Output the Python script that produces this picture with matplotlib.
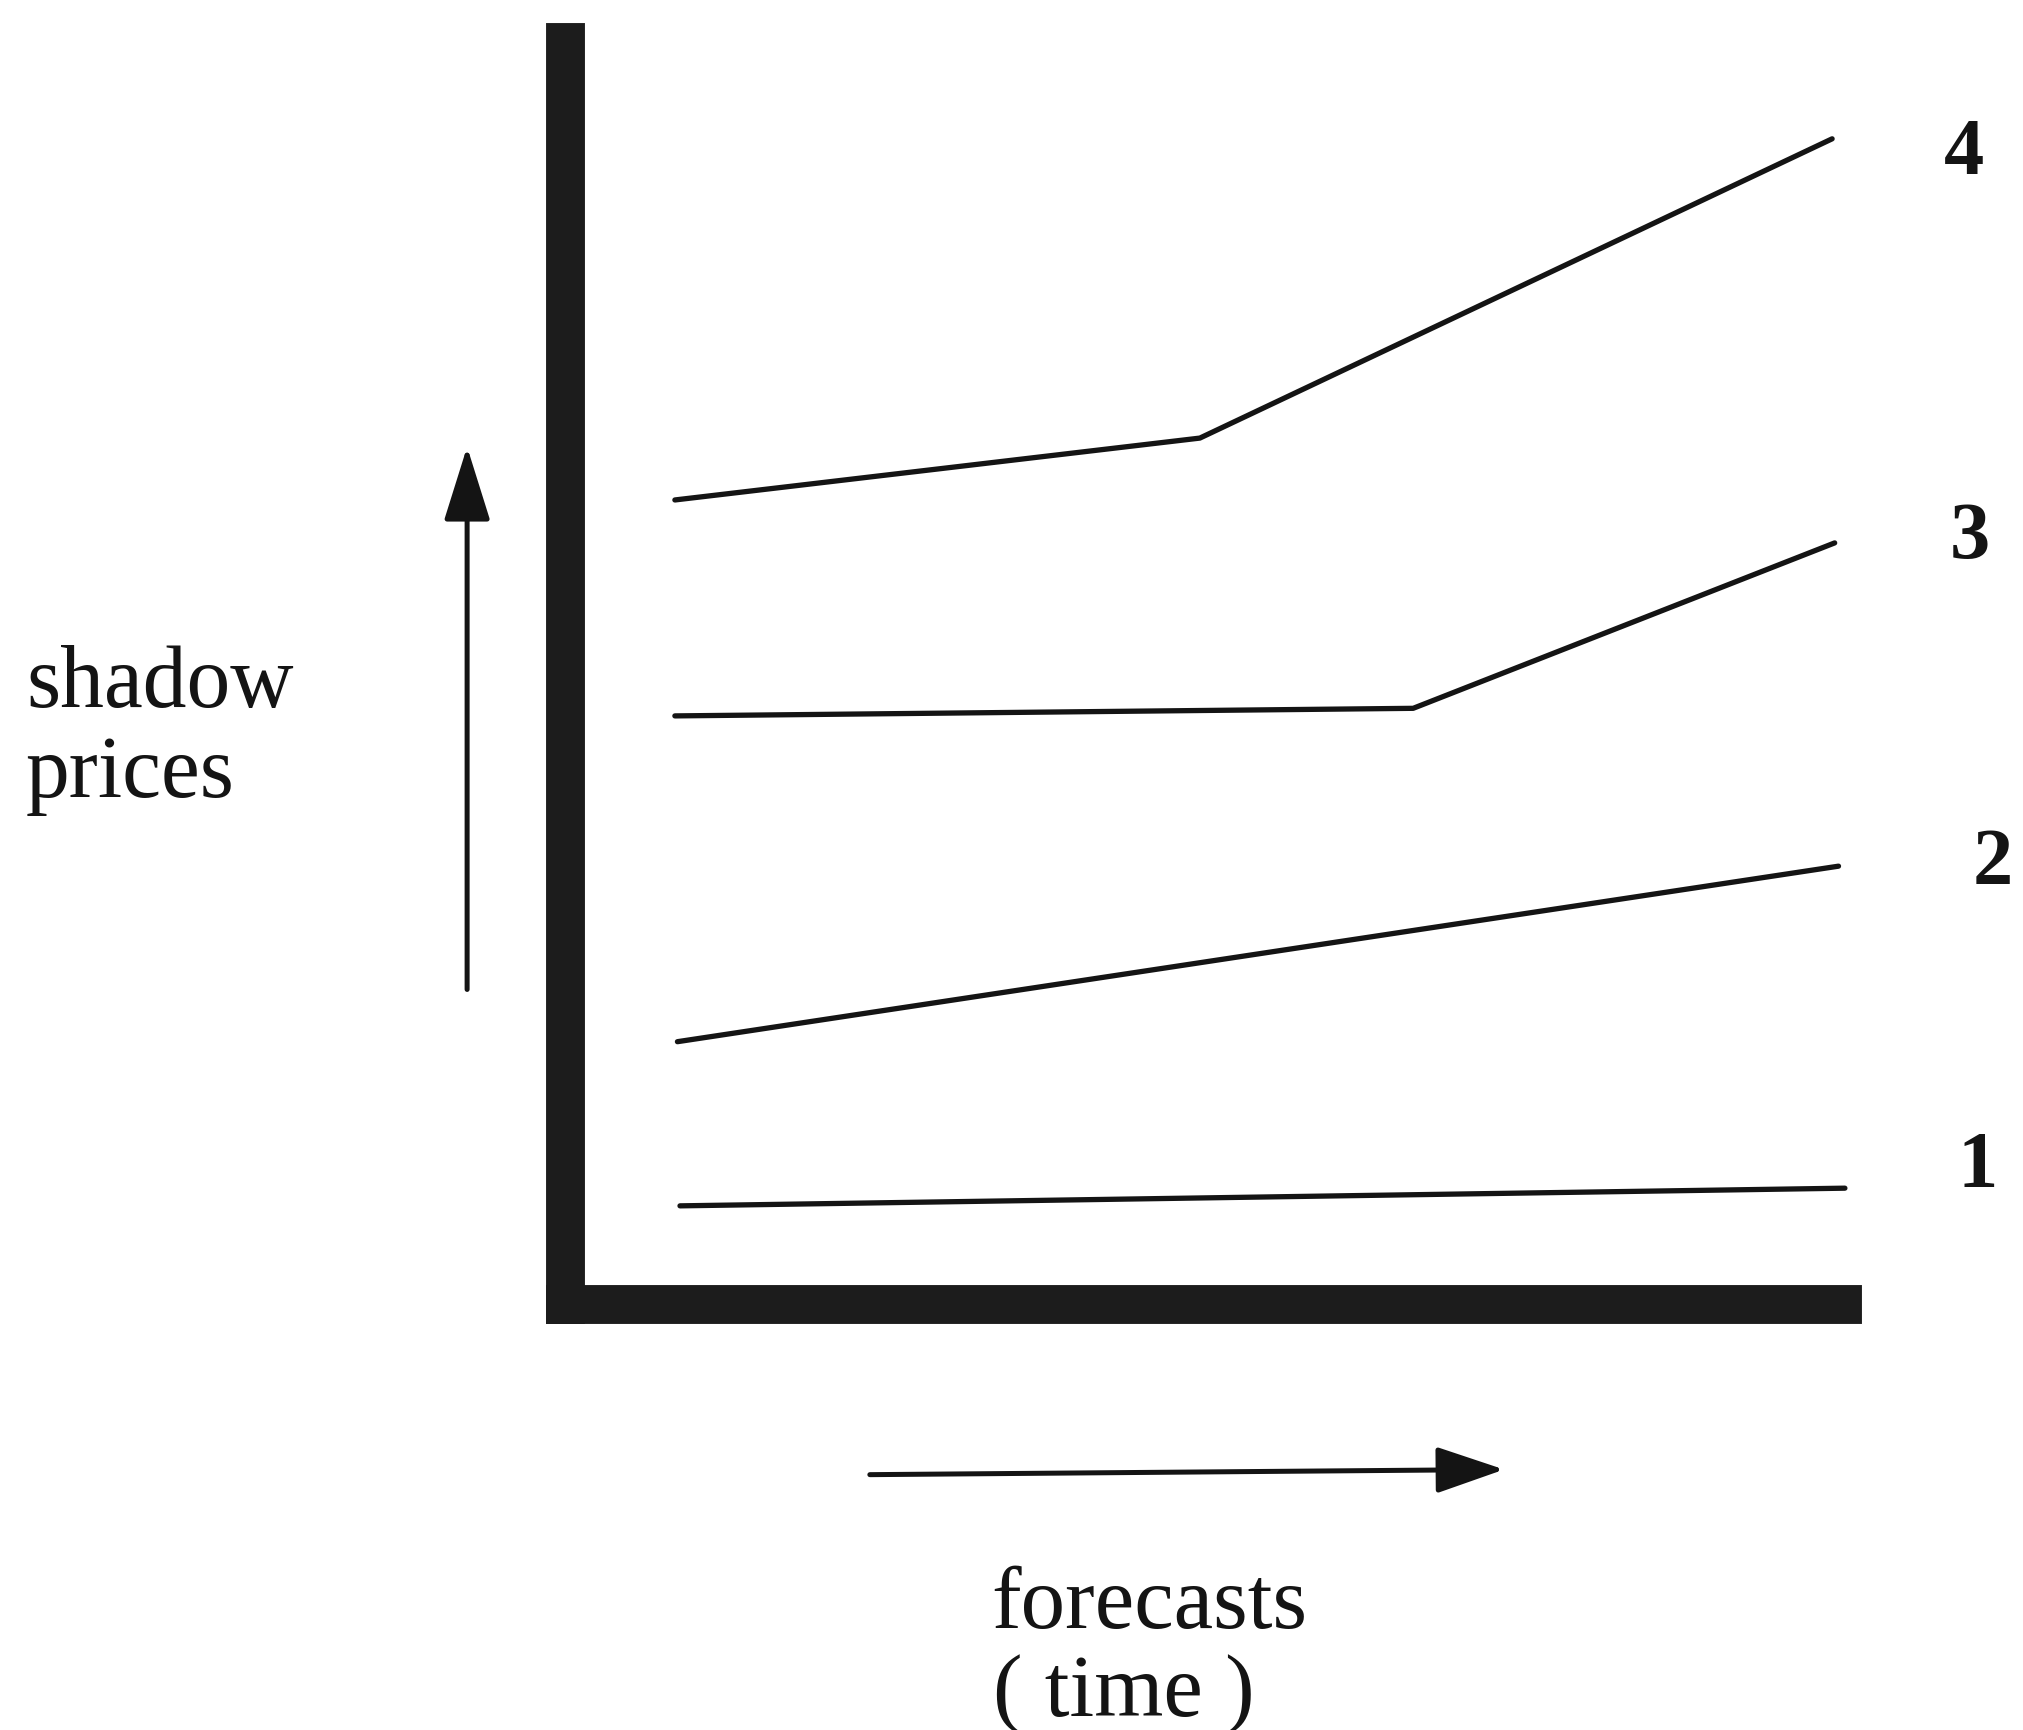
import numpy as np
import matplotlib
matplotlib.use('Agg')
import matplotlib.pyplot as plt

# Schematic shadow price paths over the forecast horizon (arbitrary units)
line_ids = ['1', '2', '3', '4']
line_x = {
    '1': [0.90, 10.02],
    '2': [0.88, 9.97],
    '3': [0.86, 6.64, 9.94],
    '4': [0.86, 4.97, 9.92],
}
line_y = {
    '1': [0.78, 0.92],
    '2': [2.08, 3.47],
    '3': [4.66, 4.72, 6.03],
    '4': [6.37, 6.86, 9.23],
}
label_x = [11.06, 11.18, 11.00, 10.95]
label_y = [1.09, 3.49, 6.07, 9.11]

ink = '#141414'
serif = ['Liberation Serif', 'DejaVu Serif']

fig = plt.figure(figsize=(20.23, 17.31), dpi=100)
ax = fig.add_axes([0.2793, 0.2459, 0.6314, 0.7295])
ax.set_xlim(0, 10)
ax.set_ylim(0, 10)

# Heavy L-shaped frame
for side in ['top', 'right']:
    ax.spines[side].set_visible(False)
for side in ['left', 'bottom']:
    ax.spines[side].set_linewidth(28)
    ax.spines[side].set_color('#1c1c1c')
    ax.spines[side].set_capstyle('projecting')
ax.set_xticks([])
ax.set_yticks([])

for i, lid in enumerate(line_ids):
    ax.plot(line_x[lid], line_y[lid], color=ink, linewidth=3.8,
            solid_capstyle='round', clip_on=False)
    ax.text(label_x[i], label_y[i], lid, fontsize=58, fontweight='bold',
            family=serif, ha='center', va='center', color=ink)

# Direction arrows
fig.add_artist(matplotlib.patches.FancyArrowPatch(
    (0.2309, 0.4262), (0.2309, 0.7429), transform=fig.transFigure,
    arrowstyle='-|>,head_length=2.3,head_width=0.72', mutation_scale=20,
    linewidth=3.6, color=ink))
fig.add_artist(matplotlib.patches.FancyArrowPatch(
    (0.4286, 0.1475), (0.7449, 0.1505), transform=fig.transFigure,
    arrowstyle='-|>,head_length=2.1,head_width=0.72', mutation_scale=20,
    linewidth=3.6, color=ink))

# Axis captions
fig.text(0.0128, 0.5917, 'shadow', fontsize=63, family=serif,
         ha='left', va='baseline', color=ink)
fig.text(0.0128, 0.5395, 'prices', fontsize=63, family=serif,
         ha='left', va='baseline', color=ink)
fig.text(0.4898, 0.0596, 'forecasts', fontsize=64, family=serif,
         ha='left', va='baseline', color=ink)
fig.text(0.4910, 0.0089, '( time )', fontsize=64, family=serif,
         ha='left', va='baseline', color=ink)

fig.savefig('out.png', dpi=100, facecolor='white')
